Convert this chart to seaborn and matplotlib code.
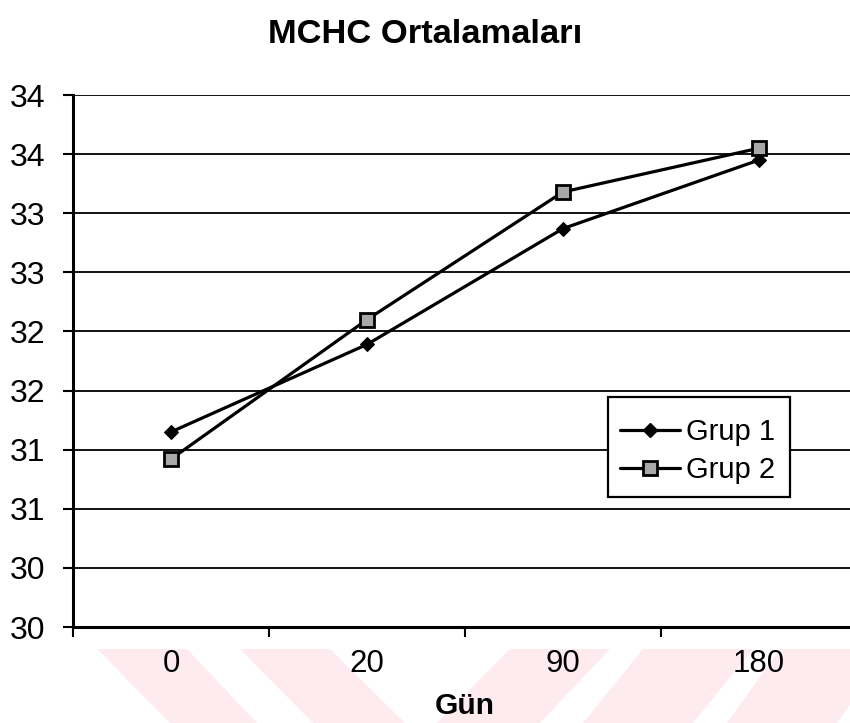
import numpy as np
import pandas as pd
import matplotlib
matplotlib.use("Agg")
import matplotlib.pyplot as plt
from matplotlib.patches import Polygon, Rectangle
from matplotlib.lines import Line2D
import seaborn as sns

# ---- data ----
gun = ["0", "20", "90", "180"]
grup1 = [31.15, 31.89, 32.87, 33.45]
grup2 = [30.92, 32.10, 33.18, 33.55]
y_ticks = [29.5, 30.0, 30.5, 31.0, 31.5, 32.0, 32.5, 33.0, 33.5, 34.0]
y_tick_labels = ["30", "30", "31", "31", "32", "32", "33", "33", "34", "34"]
series_names = ["Grup 1", "Grup 2"]
title = "MCHC Ortalamaları"
xlabel = "Gün"

df = pd.DataFrame({
    "Gün": gun * 2,
    "MCHC": grup1 + grup2,
    "Grup": [series_names[0]] * len(gun) + [series_names[1]] * len(gun),
})

sns.set_style("white")
plt.rcParams["font.family"] = ["Liberation Sans", "DejaVu Sans"]
plt.rcParams["text.color"] = "black"
plt.rcParams["axes.labelcolor"] = "black"
plt.rcParams["xtick.color"] = "black"
plt.rcParams["ytick.color"] = "black"

W, H = 850, 723
fig = plt.figure(figsize=(W / 100, H / 100), dpi=100, facecolor="white")

def fx(px):
    return px / W

def fy(py):
    return 1 - py / H

# axes: left 73px, top 95px, bottom 627px, 196px per category
left, top, bottom = 73, 95, 627
right = left + 196 * 4
ax = fig.add_axes([fx(left), fy(bottom), fx(right - left), fy(top) - fy(bottom)])

sns.lineplot(data=df, x="Gün", y="MCHC", hue="Grup", style="Grup",
             palette={series_names[0]: "black", series_names[1]: "black"},
             markers={series_names[0]: "D", series_names[1]: "s"},
             dashes=False, sort=False, legend=False, ax=ax,
             linewidth=2.3, markeredgecolor="black")

l1, l2 = ax.lines[0], ax.lines[1]
l1.set_markersize(7.5)
l1.set_markerfacecolor("black")
l2.set_markersize(9.5)
l2.set_markerfacecolor("#a8a8a8")
l2.set_markeredgewidth(2.0)
for ln in (l1, l2):
    ln.set_clip_on(False)
    ln.set_zorder(5)

ax.set_xlim(-0.5, 3.5)
ax.set_ylim(29.5, 34.0)

# y axis
ax.set_yticks(y_ticks)
ax.set_yticklabels(y_tick_labels)
ax.yaxis.grid(True, color="black", linewidth=1.3)
ax.set_axisbelow(True)

# x axis: marks at category boundaries, labels at centers
ax.set_xticks([-0.5, 0.5, 1.5, 2.5, 3.5])
ax.set_xticklabels([""] * 5)
ax.set_xticks(range(len(gun)), minor=True)
ax.set_xticklabels(gun, minor=True)
ax.tick_params(axis="x", which="major", direction="out", length=7, width=1.5,
               color="black", bottom=True)
ax.tick_params(axis="x", which="minor", length=0, pad=16, labelsize=22.5,
               labelcolor="black")
ax.tick_params(axis="y", which="major", direction="out", length=7, width=1.5,
               color="black", left=True, pad=13, labelsize=23,
               labelcolor="black")

ax.set_xlabel(xlabel, fontsize=21.5, fontweight="bold", labelpad=9,
              color="black")
ax.set_ylabel("")

for s in ["left", "bottom"]:
    ax.spines[s].set_color("black")
    ax.spines[s].set_linewidth(2.2)
ax.spines["right"].set_visible(False)
ax.spines["top"].set_visible(False)

# title
fig.text(0.5, fy(43), title, ha="center", va="baseline",
         fontsize=24.8, fontweight="bold", color="black")

# legend: frame drawn separately, entries without frame
frame = Rectangle((fx(608), fy(497)), fx(790 - 608), fy(397) - fy(497),
                  transform=fig.transFigure, facecolor="white",
                  edgecolor="black", linewidth=1.6, zorder=9)
fig.patches.append(frame)

handles = [
    Line2D([], [], color="black", linewidth=2.3, marker="D", markersize=7.5,
           markerfacecolor="black", markeredgecolor="black"),
    Line2D([], [], color="black", linewidth=2.3, marker="s", markersize=9.5,
           markerfacecolor="#a8a8a8", markeredgecolor="black",
           markeredgewidth=2.0),
]
leg = fig.legend(handles, series_names, loc="center left",
                 bbox_to_anchor=(fx(608), fy(451)), frameon=False,
                 fontsize=21, handlelength=2.05, handletextpad=0.2,
                 borderpad=0.41, labelspacing=0.34, borderaxespad=0)
leg.set_zorder(10)

# faint watermark stripes at the bottom
stripes = [
    [(97, 649), (187, 649), (257, 723), (170, 723)],
    [(240, 649), (330, 649), (405, 723), (313, 723)],
    [(510, 649), (610, 649), (540, 723), (437, 723)],
    [(643, 649), (753, 649), (693, 723), (583, 723)],
    [(780, 649), (890, 649), (837, 723), (727, 723)],
]
for poly in stripes:
    p = Polygon([(fx(x), fy(y)) for x, y in poly], closed=True,
                transform=fig.transFigure, facecolor="#fdebef",
                edgecolor="none", zorder=-5)
    fig.patches.append(p)

fig.savefig("out.png", dpi=100, facecolor="white")
